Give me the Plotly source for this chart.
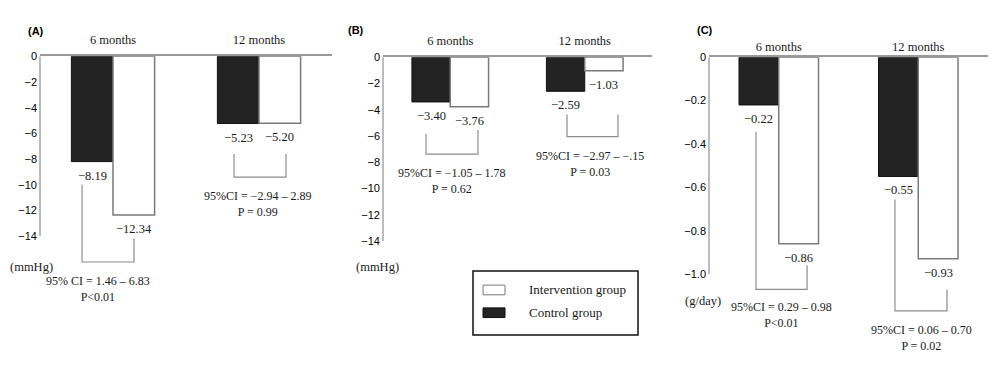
import plotly.graph_objects as go

# ---------------- data ----------------
periods = ["6 months", "12 months"]

# (A) systolic blood pressure change, mmHg
a_control = [-8.19, -5.23]
a_interv = [-12.34, -5.20]
# (B) diastolic blood pressure change, mmHg
b_control = [-3.40, -2.59]
b_interv = [-3.76, -1.03]
# (C) salt intake change, g/day
c_control = [-0.22, -0.55]
c_interv = [-0.86, -0.93]

mmhg_ticks = [0, -2, -4, -6, -8, -10, -12, -14]
mmhg_ticktext = ["0", "\u22122", "\u22124", "\u22126", "\u22128", "\u221210", "\u221212", "\u221214"]
gday_ticks = [0, -0.2, -0.4, -0.6, -0.8, -1.0]
gday_ticktext = ["0", "\u22120.2", "\u22120.4", "\u22120.6", "\u22120.8", "\u22121.0"]

a_ci = ["95% CI = 1.46 \u2013 6.83", "95%CI = \u22122.94 \u2013 2.89"]
a_p = ["P&lt;0.01", "P = 0.99"]
b_ci = ["95%CI = \u22121.05 \u2013 1.78", "95%CI = \u22122.97 \u2013 \u2212.15"]
b_p = ["P = 0.62", "P = 0.03"]
c_ci = ["95%CI = 0.29 \u2013 0.98", "95%CI = 0.06 \u2013 0.70"]
c_p = ["P&lt;0.01", "P = 0.02"]

panel_labels = ["(A)", "(B)", "(C)"]
unit_labels = ["(mmHg)", "(mmHg)", "(g/day)"]
series_names = ["Control group", "Intervention group"]

# ---------------- styling / layout geometry ----------------
SERIF = "Liberation Serif, Times New Roman, serif"
SANS = "Liberation Sans, Arial, sans-serif"
TXT = "#1a1a1a"
CTRL_FILL = "#232323"
INT_LINE = "#7a7a7a"
AX_LINE = "#a6a6a6"
H = 370.0

# pixel -> paper helpers for layout placement
def py(v):
    return 1 - v / H

def px(v):
    return v / 1000.0

# bracket geometry in (category units, data units):
# (x_left, x_right, y_left_top, y_right_top, y_bottom, x_text, y_text_centre)
panels = [
    dict(n="", ctrl=a_control, intv=a_interv, ticks=mmhg_ticks, ticktext=mmhg_ticktext,
         xdom=[px(40), px(332)], zero_px=52, unit_px=186 / 14, yrange=[-19.5, 0],
         ci=a_ci, p=a_p, title_standoff=6,
         brackets=[(-0.212, 0.144, -10.0, -14.2, -16.0, -0.103, -18.07),
                   (0.829, 1.185, -7.6, -7.6, -9.4, 0.993, -11.45)]),
    dict(n="2", ctrl=b_control, intv=b_interv, ticks=mmhg_ticks, ticktext=mmhg_ticktext,
         xdom=[px(383), px(652)], zero_px=53, unit_px=190 / 14, yrange=[-14, 0],
         ci=b_ci, p=b_p, title_standoff=6,
         brackets=[(-0.180, 0.206, -5.82, -5.53, -7.37, 0.013, -9.43),
                   (0.868, 1.247, -4.35, -4.35, -6.04, 1.039, -8.14)]),
    dict(n="3", ctrl=c_control, intv=c_interv, ticks=gday_ticks, ticktext=gday_ticktext,
         xdom=[px(709), px(988)], zero_px=53, unit_px=224, yrange=[-1.38, 0],
         ci=c_ci, p=c_p, title_standoff=0,
         brackets=[(-0.163, 0.203, -0.344, -0.960, -1.071, 0.023, -1.190),
                   (0.833, 1.206, -0.656, -1.071, -1.170, 1.020, -1.295)]),
]

label_pos = {"": [(36, 26), (31, 270)],
             "2": [(356, 25), (377.5, 270)],
             "3": [(704.5, 25), (702.5, 305)]}

fig = go.Figure()
shapes = []
annotations = []

BARGAP = 0.43
half = (1 - BARGAP) / 4  # offset of each bar centre from category centre

for i, p in enumerate(panels):
    xa = "x" + p["n"]
    ya = "y" + p["n"]
    fig.add_trace(go.Bar(
        x=periods, y=p["ctrl"], name=series_names[0], xaxis=xa, yaxis=ya,
        marker=dict(color=CTRL_FILL, line=dict(color="#111111", width=1)),
        showlegend=False, hoverinfo="x+y"))
    fig.add_trace(go.Bar(
        x=periods, y=p["intv"], name=series_names[1], xaxis=xa, yaxis=ya,
        marker=dict(color="white", line=dict(color=INT_LINE, width=1.5)),
        showlegend=False, hoverinfo="x+y"))

    bottom_px = p["zero_px"] - p["yrange"][0] * p["unit_px"]
    ydom = [py(bottom_px), py(p["zero_px"])]

    fig.layout["xaxis" + p["n"]] = dict(
        domain=p["xdom"], anchor=ya, type="category", categoryorder="array",
        categoryarray=periods, range=[-0.5, 1.5], side="top",
        showline=True, linecolor="#9a9a9a", linewidth=1.5, ticks="",
        showgrid=False, zeroline=False, ticklabelstandoff=p["title_standoff"],
        tickfont=dict(family=SERIF, size=12.5, color=TXT), fixedrange=True)
    fig.layout["yaxis" + p["n"]] = dict(
        domain=ydom, anchor=xa, range=p["yrange"], tickvals=p["ticks"],
        ticktext=p["ticktext"], showline=False, showgrid=False, zeroline=False,
        ticks="", ticklabelstandoff=2,
        tickfont=dict(family=SANS, size=11, color="#000000"), fixedrange=True)

    # y axis line from 0 down to the last tick
    shapes.append(dict(type="line", xref=xa + " domain", yref=ya, x0=0, x1=0,
                       y0=0, y1=min(p["ticks"]), line=dict(color=AX_LINE, width=1.5)))

    # value labels below bars
    for k in range(2):
        for vals, off in ((p["ctrl"], -half), (p["intv"], half)):
            v = vals[k]
            annotations.append(dict(
                x=k + off, y=v, xref=xa, yref=ya, yshift=-14,
                xanchor="center", yanchor="middle",
                text=f"{v:.2f}".replace("-", "\u2212"), showarrow=False,
                font=dict(family=SERIF, size=12.5, color=TXT)))

    # comparison brackets + CI / P text
    for k, (xl, xr, ylt, yrt, yb, xt, yt) in enumerate(p["brackets"]):
        shapes.append(dict(type="path", xref=xa, yref=ya,
                           path=f"M{xl},{ylt} L{xl},{yb} L{xr},{yb} L{xr},{yrt}",
                           line=dict(color="#8c8c8c", width=1.2)))
        annotations.append(dict(x=xt, y=yt, xref=xa, yref=ya,
                                text=p["ci"][k] + "<br>" + p["p"][k],
                                xanchor="center", yanchor="middle", align="center",
                                showarrow=False,
                                font=dict(family=SERIF, size=12, color=TXT)))

    (lx, ly), (ux, uy) = label_pos[p["n"]]
    annotations.append(dict(x=px(lx), y=py(ly), xref="paper", yref="paper",
                            xanchor="center", yanchor="middle",
                            text=f"<b>{panel_labels[i]}</b>", showarrow=False,
                            font=dict(family=SANS, size=11, color="#000000")))
    annotations.append(dict(x=px(ux), y=py(uy), xref="paper", yref="paper",
                            xanchor="center", yanchor="middle",
                            text=unit_labels[i], showarrow=False,
                            font=dict(family=SERIF, size=12.5, color=TXT)))

# ---------------- legend (boxed key) ----------------
shapes.append(dict(type="rect", xref="paper", yref="paper",
                   x0=px(473), x1=px(638), y0=py(340), y1=py(274),
                   line=dict(color="#111111", width=1.5), fillcolor="white", layer="below"))
legend_rows = [(series_names[1], "white", INT_LINE, 293.5),
               (series_names[0], CTRL_FILL, "#111111", 317)]
for name, fill, edge, yc in legend_rows:
    shapes.append(dict(type="rect", xref="paper", yref="paper",
                       x0=px(483), x1=px(505), y0=py(yc + 5), y1=py(yc - 5),
                       line=dict(color=edge, width=1), fillcolor=fill))
    annotations.append(dict(x=px(527), y=py(yc), xref="paper", yref="paper",
                            xanchor="left", yanchor="middle", text=name,
                            showarrow=False,
                            font=dict(family=SERIF, size=13, color=TXT)))

fig.update_layout(
    width=1000, height=370, margin=dict(l=0, r=0, t=0, b=0),
    paper_bgcolor="white", plot_bgcolor="white",
    barmode="group", bargap=BARGAP, bargroupgap=0,
    shapes=shapes, annotations=annotations,
    showlegend=False,
)

fig.write_html("out.html", config={"displayModeBar": False},
               post_script="document.body.style.margin='0';")
